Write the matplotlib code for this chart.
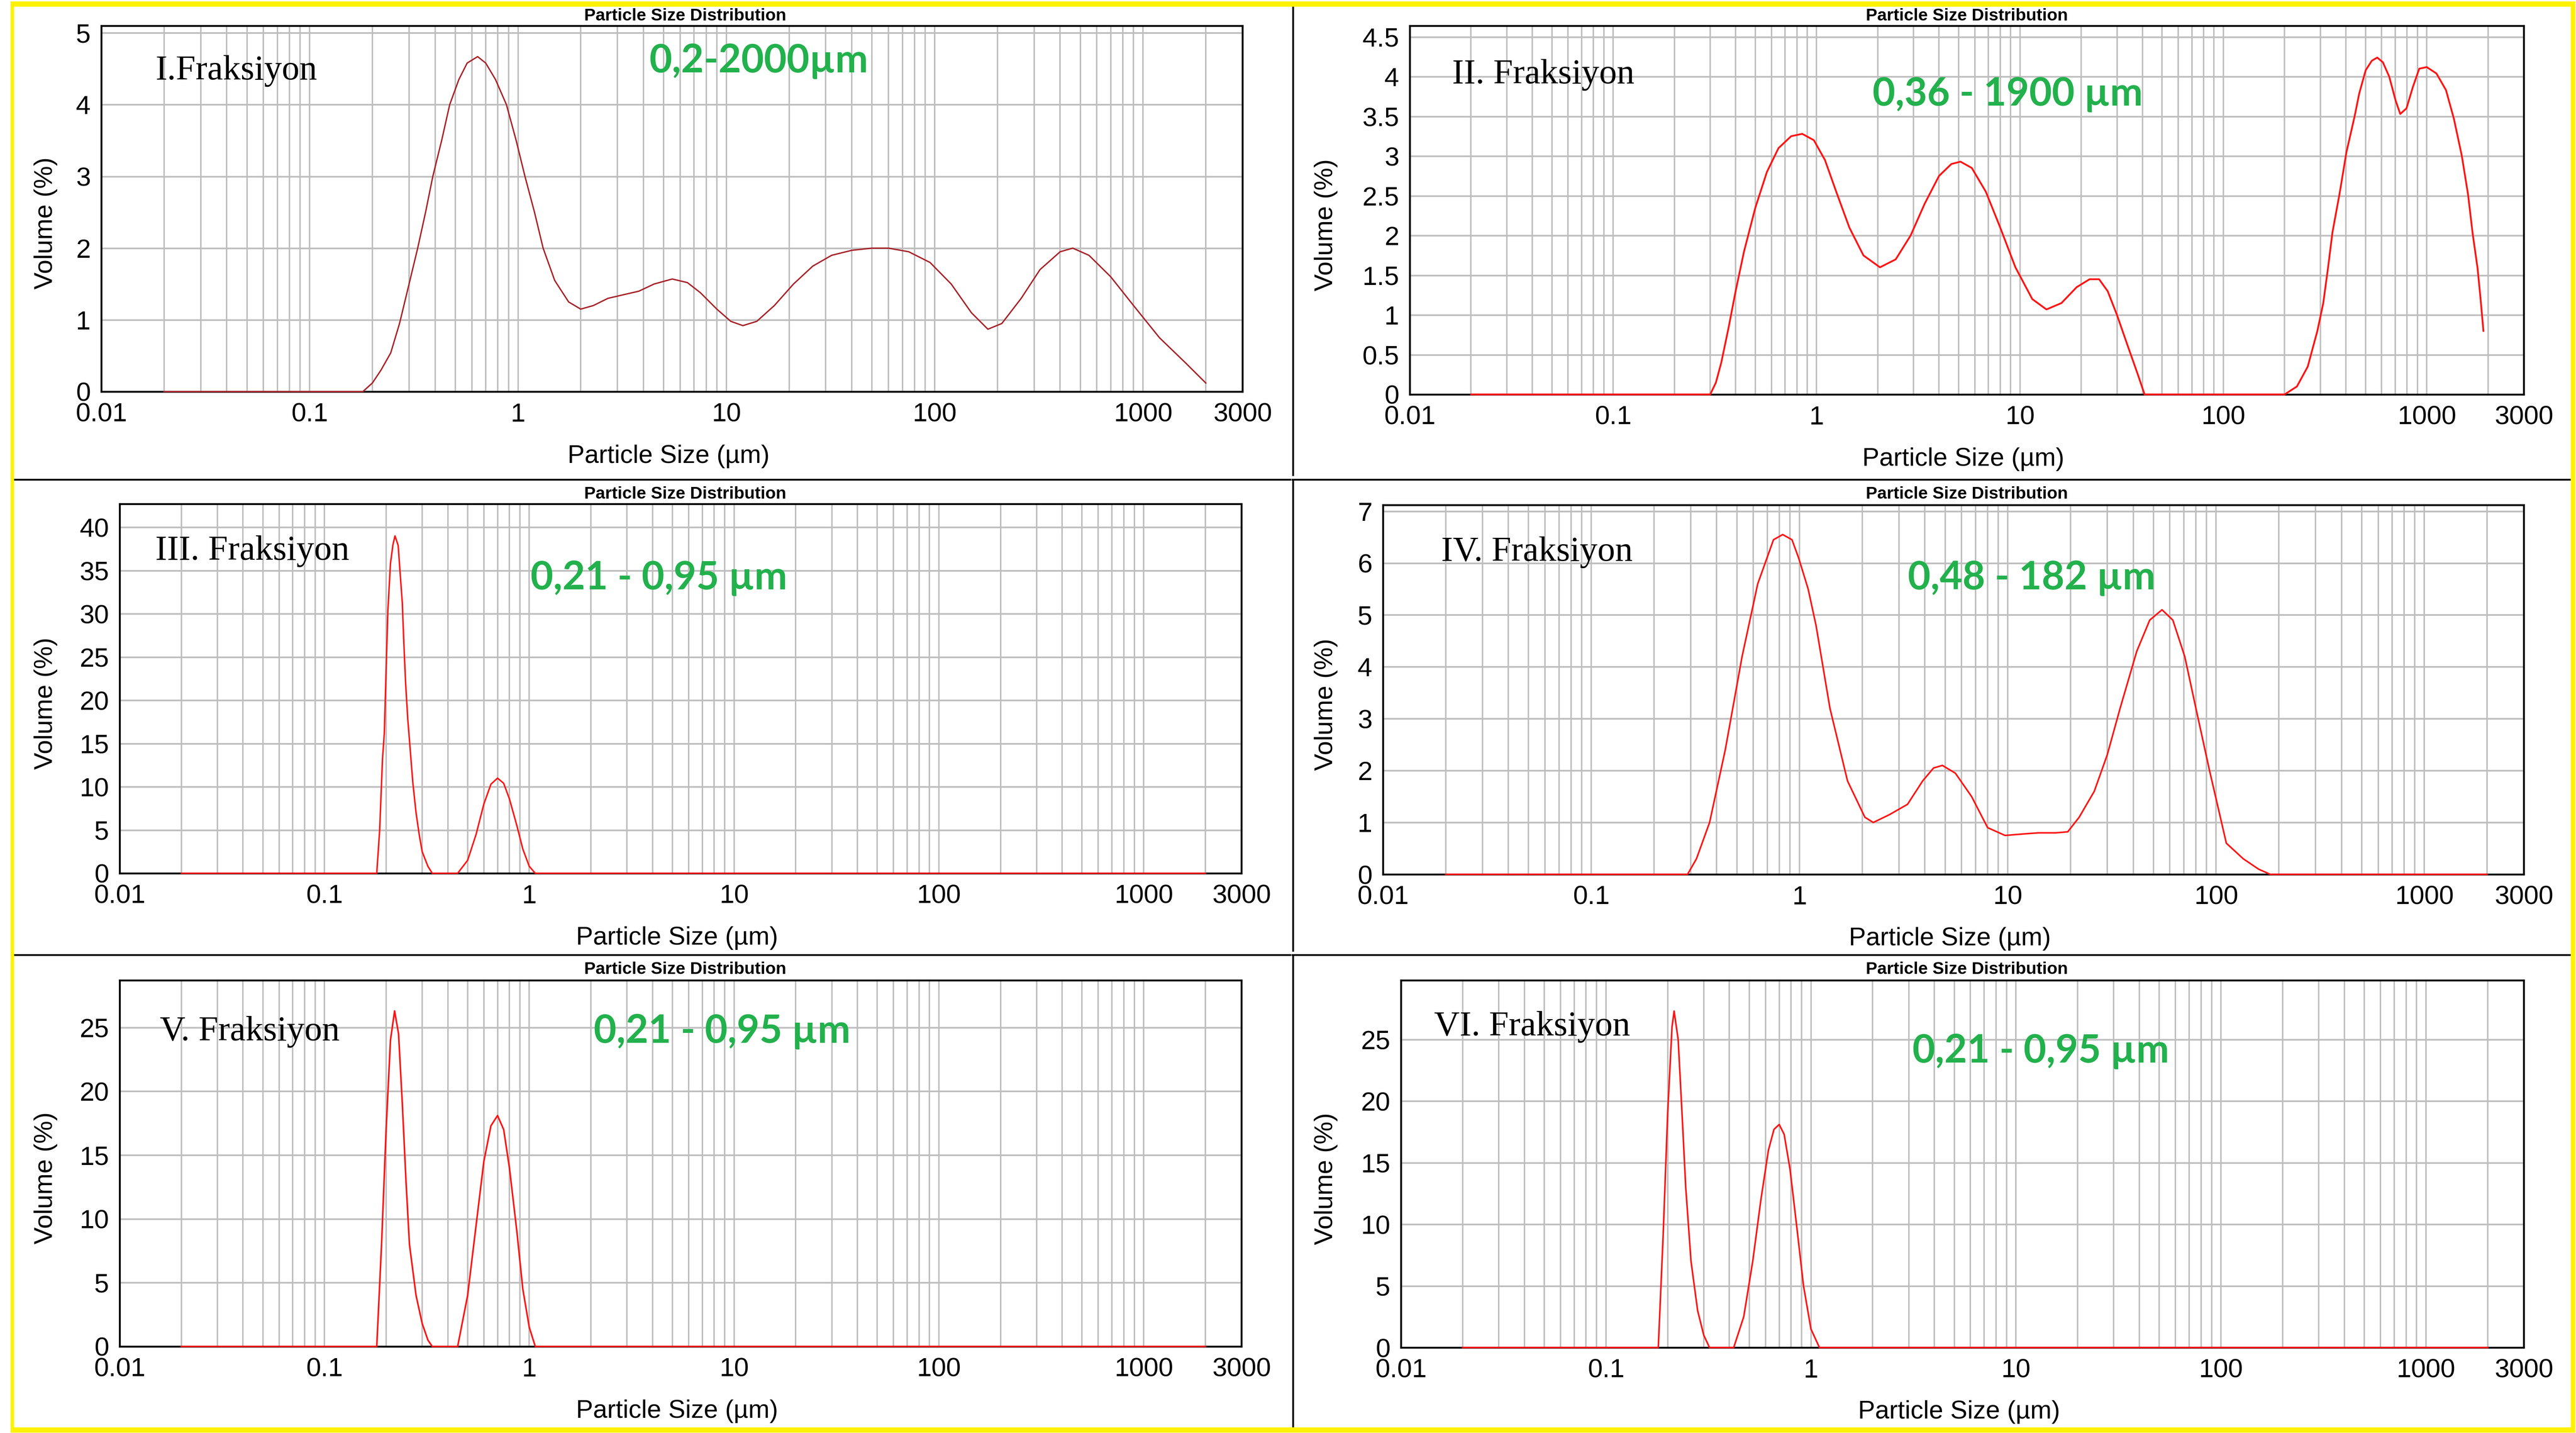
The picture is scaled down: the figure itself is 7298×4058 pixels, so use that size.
import matplotlib
matplotlib.use("Agg")
import matplotlib.pyplot as plt
from matplotlib.ticker import FixedLocator, FixedFormatter, NullFormatter
from matplotlib.patches import Rectangle
from matplotlib.lines import Line2D

# ---------------- data ----------------
x_ticks = [0.01, 0.1, 1, 10, 100, 1000, 3000]
x_tick_labels = ["0.01", "0.1", "1", "10", "100", "1000", "3000"]

p1_size = [0.02, 0.18, 0.2, 0.22, 0.245, 0.27, 0.3, 0.33, 0.36, 0.39, 0.43, 0.47, 0.52, 0.57,
           0.64, 0.7, 0.78, 0.88, 0.98, 1.08, 1.2, 1.32, 1.5, 1.75, 2.0, 2.3, 2.7, 3.2, 3.8,
           4.5, 5.5, 6.5, 7.5, 9, 10.5, 12, 14, 17, 21, 26, 32, 40, 50, 60, 75, 95, 120, 150,
           180, 210, 260, 320, 400, 460, 550, 700, 900, 1200, 1600, 2000]
p1_vol = [0, 0, 0.12, 0.3, 0.54, 0.95, 1.5, 2.0, 2.5, 3.0, 3.5, 4.0, 4.35, 4.58,
          4.67, 4.58, 4.35, 4.0, 3.5, 3.0, 2.5, 2.0, 1.55, 1.25, 1.15, 1.2, 1.3, 1.35, 1.4,
          1.5, 1.57, 1.52, 1.38, 1.15, 0.98, 0.92, 0.98, 1.2, 1.5, 1.75, 1.9, 1.97, 2.0, 2.0,
          1.95, 1.8, 1.5, 1.1, 0.87, 0.95, 1.3, 1.7, 1.95, 2.0, 1.9, 1.6, 1.2, 0.75, 0.4, 0.12]

p2_size = [0.02, 0.3, 0.32, 0.34, 0.37, 0.4, 0.44, 0.5, 0.57, 0.65, 0.75, 0.85, 0.97, 1.1,
           1.25, 1.45, 1.7, 2.05, 2.45, 2.9, 3.4, 4.0, 4.6, 5.1, 5.8, 6.8, 8.0, 9.5, 11.5,
           13.5, 16, 19, 22, 24.5, 27, 30, 34, 38, 41, 200, 230, 260, 290, 310, 327, 344,
           373, 403, 442, 466, 501, 537, 571, 609, 654, 703, 741, 795, 855, 919, 1000, 1116,
           1244, 1360, 1486, 1596, 1683, 1778, 1840, 1900]
p2_vol = [0, 0, 0.15, 0.4, 0.85, 1.3, 1.8, 2.35, 2.8, 3.1, 3.25, 3.28, 3.2, 2.95,
          2.55, 2.1, 1.75, 1.6, 1.7, 2.0, 2.4, 2.75, 2.9, 2.93, 2.85, 2.55, 2.1, 1.6, 1.2,
          1.07, 1.15, 1.35, 1.45, 1.45, 1.3, 1.0, 0.6, 0.25, 0, 0, 0.1, 0.35, 0.8, 1.15, 1.59,
          2.04, 2.53, 3.05, 3.5, 3.79, 4.08, 4.2, 4.24, 4.18, 4.0, 3.7, 3.53, 3.6, 3.87, 4.1,
          4.12, 4.04, 3.83, 3.47, 3.01, 2.52, 2.02, 1.59, 1.2, 0.8]

p3_size = [0.02, 0.18, 0.186, 0.192, 0.196, 0.2, 0.204, 0.21, 0.216, 0.221, 0.229, 0.233,
           0.24, 0.244, 0.249, 0.255, 0.262, 0.27, 0.28, 0.29, 0.3, 0.32, 0.336, 0.447, 0.5,
           0.55, 0.6, 0.65, 0.7, 0.75, 0.8, 0.87, 0.93, 1.0, 1.07, 2000]
p3_vol = [0, 0, 5, 13.2, 16.2, 23.5, 30.4, 35.8, 38, 39, 37.9, 35.4,
          31.2, 26.7, 22, 17.9, 14.4, 10.5, 7, 4.5, 2.5, 0.8, 0, 0, 1.5,
          4.5, 8, 10.3, 11, 10.4, 8.6, 5.5, 2.8, 0.8, 0, 0]

p4_size = [0.02, 0.29, 0.32, 0.37, 0.44, 0.53, 0.63, 0.75, 0.83, 0.92, 0.99, 1.1, 1.2, 1.4,
           1.7, 2.06, 2.26, 2.7, 3.3, 3.9, 4.4, 4.85, 5.6, 6.7, 8.0, 9.7, 12, 14, 17, 19.4,
           22, 26, 30, 34.6, 41.6, 48, 55, 62, 70.7, 80, 93, 112, 135, 160, 182, 2000]
p4_vol = [0, 0, 0.3, 1.0, 2.4, 4.2, 5.6, 6.45, 6.55, 6.45, 6.1, 5.5, 4.8, 3.2,
          1.8, 1.1, 1.0, 1.15, 1.35, 1.8, 2.05, 2.1, 1.95, 1.5, 0.9, 0.75, 0.78, 0.8, 0.8,
          0.82, 1.1, 1.6, 2.3, 3.2, 4.3, 4.9, 5.1, 4.9, 4.2, 3.2, 2.0, 0.6, 0.3, 0.1, 0, 0]

p5_size = [0.02, 0.18, 0.19, 0.2, 0.21, 0.22, 0.23, 0.24, 0.25, 0.26, 0.28, 0.3, 0.32, 0.336,
           0.447, 0.5, 0.55, 0.6, 0.65, 0.7, 0.75, 0.8, 0.87, 0.93, 1.0, 1.07, 2000]
p5_vol = [0, 0, 8, 17, 24, 26.3, 24.5, 19, 13, 8, 4, 1.8, 0.5, 0,
          0, 4, 9.5, 14.5, 17.3, 18.1, 17, 14, 9, 4.5, 1.5, 0, 0]

p6_size = [0.02, 0.18, 0.19, 0.2, 0.21, 0.215, 0.225, 0.235, 0.245, 0.26, 0.28, 0.3, 0.32,
           0.42, 0.47, 0.52, 0.57, 0.62, 0.66, 0.7, 0.74, 0.79, 0.85, 0.92, 1.0, 1.1, 2000]
p6_vol = [0, 0, 9, 19, 26, 27.3, 25, 19, 13, 7, 3, 1, 0,
          0, 2.5, 7, 12, 16, 17.7, 18.1, 17.3, 14.5, 10, 5, 1.5, 0, 0]

y_ticks_1 = [0, 1, 2, 3, 4, 5]
y_ticks_2 = [0, 0.5, 1, 1.5, 2, 2.5, 3, 3.5, 4, 4.5]
y_ticks_3 = [0, 5, 10, 15, 20, 25, 30, 35, 40]
y_ticks_4 = [0, 1, 2, 3, 4, 5, 6, 7]
y_ticks_5 = [0, 5, 10, 15, 20, 25]
y_ticks_6 = [0, 5, 10, 15, 20, 25]

y_max = [5.1, 4.64, 42.7, 7.12, 28.7, 29.8]

fraction_names = ["I.Fraksiyon", "II. Fraksiyon", "III. Fraksiyon",
                  "IV. Fraksiyon", "V. Fraksiyon", "VI. Fraksiyon"]
range_labels = ["0,2-2000µm", "0,36 - 1900 µm", "0,21 - 0,95 µm",
                "0,48 - 182 µm", "0,21 - 0,95 µm", "0,21 - 0,95 µm"]
title_text = "Particle Size Distribution"
x_label = "Particle Size (µm)"
y_label = "Volume (%)"

# ---------------- layout ----------------
W, H, DPI = 7299, 4058, 100
plt.rcParams["font.family"] = ["Liberation Sans", "DejaVu Sans"]

fig = plt.figure(figsize=(W / DPI, H / DPI), dpi=DPI)
fig.patch.set_facecolor("white")

def fx(px):
    return px / W

def fy(py):
    return 1 - py / H

# axes boxes in pixels: left, right, top, bottom
boxes = [(287, 3520, 73, 1109), (3994, 7150, 73, 1117),
         (339, 3517, 1427, 2473), (3918, 7150, 1430, 2476),
         (339, 3517, 2776, 3813), (3969, 7150, 2776, 3816)]
sizes = [p1_size, p2_size, p3_size, p4_size, p5_size, p6_size]
vols = [p1_vol, p2_vol, p3_vol, p4_vol, p5_vol, p6_vol]
yticks = [y_ticks_1, y_ticks_2, y_ticks_3, y_ticks_4, y_ticks_5, y_ticks_6]
colors = ["#A8242A", "#FF1414", "#FF1414", "#FF1414", "#FF1414", "#FF1414"]
line_w = [2.8, 3.6, 3.0, 3.2, 3.2, 3.2]

frac_pos = [(440, 225), (4114, 236), (440, 1585), (4083, 1588), (453, 2946), (4063, 2932)]
range_pos = [(2149, 205), (5688, 299), (1867, 1669), (5756, 1669), (2046, 2953), (5782, 3009)]
title_pos = [(1941, 58), (5572, 58), (1941, 1412), (5572, 1412), (1941, 2758), (5572, 2758)]
ylabel_x = [130, 3757, 130, 3757, 130, 3757]

minor_grid = [m * 10.0 ** e for e in range(-2, 4) for m in range(2, 10) if m * 10.0 ** e <= 2000]

grid_col = "#BEBEBE"
for i in range(6):
    l, r, t, b = boxes[i]
    ax = fig.add_axes([fx(l), fy(b), (r - l) / W, (b - t) / H])
    ax.set_xscale("log")
    ax.set_xlim(0.01, 3000)
    ax.set_ylim(0, y_max[i])
    ax.xaxis.set_major_locator(FixedLocator(x_ticks))
    ax.xaxis.set_major_formatter(FixedFormatter(x_tick_labels))
    ax.xaxis.set_minor_locator(FixedLocator(minor_grid))
    ax.xaxis.set_minor_formatter(NullFormatter())
    ax.yaxis.set_major_locator(FixedLocator(yticks[i]))
    ax.yaxis.set_major_formatter(FixedFormatter(["%g" % v for v in yticks[i]]))
    ax.tick_params(which="both", length=0, labelsize=54, pad=22, colors="black")
    ax.grid(True, which="both", axis="x", color=grid_col, lw=3.0)
    ax.grid(True, which="major", axis="y", color=grid_col, lw=3.4)
    ax.set_axisbelow(True)
    for s in ax.spines.values():
        s.set_linewidth(3.8)
        s.set_color("black")
    ax.plot(sizes[i], vols[i], color=colors[i], lw=line_w[i], clip_on=False, zorder=3,
            solid_joinstyle="round")

    ax.set_xlabel(x_label, fontsize=52, va="center")
    ax.xaxis.set_label_coords(0.497, -183 / (b - t))
    ax.set_ylabel(y_label, fontsize=52, va="center")
    ax.yaxis.set_label_coords((ylabel_x[i] - l) / (r - l), 0.46)

    fig.text(fx(frac_pos[i][0]), fy(frac_pos[i][1]), fraction_names[i],
             family=["Liberation Serif", "DejaVu Serif"], fontsize=72,
             ha="left", va="baseline", color="black")
    fig.text(fx(range_pos[i][0]), fy(range_pos[i][1]), range_labels[i],
             family=["Lato", "Open Sans", "DejaVu Sans"], fontweight="bold", fontsize=80,
             ha="center", va="baseline", color="#22B14C")
    fig.text(fx(title_pos[i][0]), fy(title_pos[i][1]), title_text,
             fontsize=35, fontweight="bold", ha="center", va="baseline", color="black")

# panel dividers
div_lw = 3.6
for (y0, y1) in [(19, 1345), (1362, 2692), (2709, 4042)]:
    fig.add_artist(Line2D([fx(3663), fx(3663)], [fy(y0), fy(y1)], color="black", lw=div_lw))
for yy in [1358, 2704]:
    fig.add_artist(Line2D([fx(40), fx(3655)], [fy(yy), fy(yy)], color="black", lw=div_lw))
    fig.add_artist(Line2D([fx(3661), fx(7283)], [fy(yy), fy(yy)], color="black", lw=div_lw))

# yellow frame
yellow = "#FFF200"
for (x0, y0, x1, y1) in [(30, 4, 7296, 19), (30, 4042, 7296, 4057),
                         (30, 4, 40, 4057), (7283, 4, 7296, 4057)]:
    fig.add_artist(Rectangle((fx(x0), fy(y1)), (x1 - x0) / W, (y1 - y0) / H,
                             transform=fig.transFigure, facecolor=yellow,
                             edgecolor="none", zorder=10))

fig.savefig("out.png", dpi=DPI, facecolor="white")
